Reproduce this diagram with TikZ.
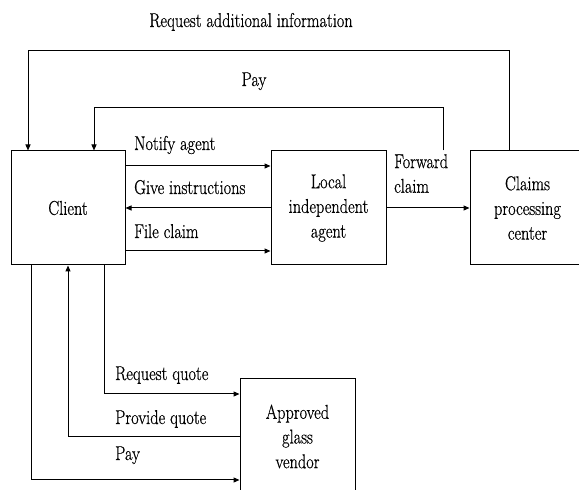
\documentclass[tikz,border=0pt]{standalone}
\usepackage{fontspec}
\setmainfont{Latin Modern Roman}[FakeStretch=0.815,FakeBold=0.6]
\usetikzlibrary{arrows.meta}
\begin{document}
\begin{tikzpicture}[x=1pt,y=1pt,
  box/.style={draw,line width=1pt,minimum height=114pt,inner sep=0pt,align=center,font=\fontsize{20}{24.7}\selectfont},
  lbl/.style={inner sep=0pt,font=\fontsize{20}{24.7}\selectfont},
  arr/.style={line width=1pt,-{Triangle[length=6pt,width=5pt]}}]
\useasboundingbox (0,0) rectangle (579,490);
\node[box,minimum width=114pt] (client) at (68,282) {Client};
\node[box,minimum width=115pt] (agent) at (328.5,282) {Local\\independent\\agent};
\node[box,minimum width=140pt] (claims) at (540,282) {\hspace*{-25pt}Claims\\\hspace*{-25pt}processing\\\hspace*{-25pt}center};
\node[box,minimum width=115pt,minimum height=115pt] (vendor) at (297.5,53.5) {Approved\\glass\\vendor};
% client <-> agent
\draw[arr] ([yshift=42pt]client.east) -- ([yshift=42pt]agent.west);
\draw[arr] (agent.west) -- (client.east);
\draw[arr] ([yshift=-43pt]client.east) -- ([yshift=-43pt]agent.west);
\draw[arr] (agent.east) -- (claims.west);
% top loops
\draw[arr] ([xshift=-31pt]claims.north) -- ++(0,100) -| ([xshift=-40pt]client.north);
\draw[arr] ([xshift=-97pt]claims.north) -- ++(0,43) -| ([xshift=26pt]client.north);
% vendor
\draw[arr] ([xshift=36pt]client.south) |- ([yshift=42.5pt]vendor.west);
\draw[arr] (vendor.west) -| (client.south);
\draw[arr] ([xshift=-37pt]client.south) |- ([yshift=-43.5pt]vendor.west);
% labels
\node[lbl,anchor=base west] (l1) at (134,340) {Notify agent};
\node[lbl,anchor=base west] (l2) at (134,296) {Give instructions};
\node[lbl,anchor=base west] (l3) at (134,252) {File claim};
\node[lbl,anchor=north west,align=left] (l4) at (394,336) {Forward\\claim};
\node[lbl,anchor=base] (l5) at (251,463) {Request additional information};
\node[lbl,anchor=base] (l6) at (254,404) {Pay};
\node[lbl,anchor=base west] (l7) at (115,110) {Request quote};
\node[lbl,anchor=base west] (l8) at (115,66) {Provide quote};
\node[lbl,anchor=base west] (l9) at (115,30) {Pay};
\end{tikzpicture}
\end{document}
